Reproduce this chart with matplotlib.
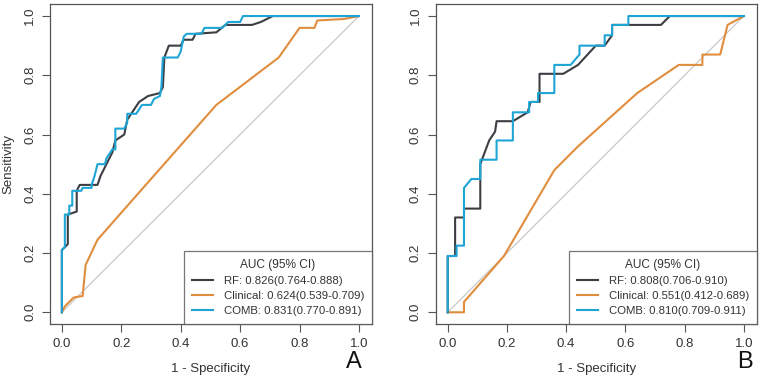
import matplotlib.pyplot as plt

plt.rcParams['font.family'] = ['Liberation Sans', 'DejaVu Sans']

# ROC points (1 - specificity, sensitivity)
# panel A
a_rf_x = [0, 0, 0.01, 0.02, 0.02, 0.05, 0.05, 0.055, 0.06, 0.12, 0.13, 0.15, 0.17, 0.18, 0.21, 0.22, 0.24, 0.26,
          0.29, 0.33, 0.34, 0.345, 0.36, 0.40, 0.41, 0.44, 0.45, 0.52, 0.55, 0.64, 0.67, 0.71, 1.0]
a_rf_y = [0, 0.21, 0.22, 0.23, 0.33, 0.34, 0.41, 0.42, 0.43, 0.43, 0.46, 0.50, 0.54, 0.58, 0.60, 0.65, 0.68, 0.71,
          0.73, 0.74, 0.76, 0.86, 0.90, 0.90, 0.92, 0.92, 0.94, 0.945, 0.97, 0.97, 0.98, 1.0, 1.0]
a_comb_x = [0, 0, 0.01, 0.01, 0.025, 0.025, 0.035, 0.035, 0.065, 0.07, 0.1, 0.1, 0.11, 0.12, 0.145, 0.15, 0.17,
            0.18, 0.18, 0.21, 0.22, 0.22, 0.245, 0.25, 0.27, 0.30, 0.31, 0.33, 0.335, 0.34, 0.39, 0.40, 0.41,
            0.42, 0.47, 0.48, 0.54, 0.55, 0.56, 0.60, 0.61, 1.0]
a_comb_y = [0, 0.21, 0.22, 0.33, 0.33, 0.36, 0.36, 0.41, 0.41, 0.42, 0.42, 0.43, 0.46, 0.50, 0.50, 0.52, 0.55,
            0.55, 0.62, 0.62, 0.64, 0.67, 0.67, 0.67, 0.70, 0.70, 0.72, 0.73, 0.76, 0.86, 0.86, 0.88, 0.93,
            0.94, 0.94, 0.96, 0.96, 0.97, 0.98, 0.98, 1.0, 1.0]
a_cli_x = [0, 0.01, 0.02, 0.04, 0.07, 0.08, 0.12, 0.30, 0.52, 0.73, 0.80, 0.85, 0.86, 0.95, 1.0]
a_cli_y = [0, 0.02, 0.03, 0.05, 0.055, 0.16, 0.245, 0.45, 0.70, 0.86, 0.96, 0.96, 0.985, 0.99, 1.0]

# panel B
b_rf_x = [0, 0, 0.025, 0.025, 0.055, 0.055, 0.11, 0.11, 0.14, 0.16, 0.165, 0.22, 0.27, 0.28, 0.31, 0.31, 0.39,
          0.44, 0.50, 0.53, 0.555, 0.555, 0.72, 0.75, 1.0]
b_rf_y = [0, 0.19, 0.19, 0.32, 0.32, 0.35, 0.35, 0.50, 0.58, 0.61, 0.645, 0.645, 0.675, 0.71, 0.71, 0.805, 0.805,
          0.835, 0.90, 0.90, 0.935, 0.97, 0.97, 1.0, 1.0]
b_comb_x = [0, 0, 0.03, 0.03, 0.055, 0.055, 0.08, 0.11, 0.11, 0.165, 0.165, 0.22, 0.22, 0.275, 0.275, 0.305,
            0.305, 0.36, 0.36, 0.415, 0.445, 0.445, 0.53, 0.53, 0.555, 0.555, 0.61, 0.61, 1.0]
b_comb_y = [0, 0.19, 0.19, 0.225, 0.225, 0.42, 0.45, 0.45, 0.515, 0.515, 0.58, 0.58, 0.675, 0.675, 0.71, 0.71,
            0.74, 0.74, 0.835, 0.835, 0.87, 0.90, 0.90, 0.935, 0.935, 0.97, 0.97, 1.0, 1.0]
b_cli_x = [0, 0.055, 0.055, 0.19, 0.36, 0.44, 0.64, 0.78, 0.86, 0.86, 0.92, 0.945, 1.0]
b_cli_y = [0, 0, 0.035, 0.19, 0.48, 0.56, 0.74, 0.835, 0.835, 0.87, 0.87, 0.97, 1.0]

labels_a = ["RF: 0.826(0.764-0.888)", "Clinical: 0.624(0.539-0.709)", "COMB: 0.831(0.770-0.891)"]
labels_b = ["RF: 0.808(0.706-0.910)", "Clinical: 0.551(0.412-0.689)", "COMB: 0.810(0.709-0.911)"]
ticks = [0.0, 0.2, 0.4, 0.6, 0.8, 1.0]

c_rf = "#3b3e42"
c_cli = "#e08d3e"
c_comb = "#1ea5d6"
frame = "#555555"
txt = "#333333"

fig = plt.figure(figsize=(7.62, 3.80), dpi=100)
axA = fig.add_axes([0.0656, 0.147, 0.4226, 0.842])
axB = fig.add_axes([0.572, 0.147, 0.4213, 0.842])

panels = [
    (axA, a_rf_x, a_rf_y, a_cli_x, a_cli_y, a_comb_x, a_comb_y, labels_a, "A", True, 362),
    (axB, b_rf_x, b_rf_y, b_cli_x, b_cli_y, b_comb_x, b_comb_y, labels_b, "B", False, 753),
]

for ax, rx, ry, cx, cy, mx, my, labs, letter, ylab, lx in panels:
    ax.plot([0, 1], [0, 1], color="#c8c8c8", lw=0.9, zorder=1)
    ax.plot(rx, ry, color=c_rf, lw=1.5, label=labs[0], zorder=3)
    ax.plot(cx, cy, color=c_cli, lw=1.5, label=labs[1], zorder=2)
    ax.plot(mx, my, color=c_comb, lw=1.5, label=labs[2], zorder=4)
    ax.set_xlim(-0.04, 1.044)
    ax.set_ylim(-0.04, 1.04)
    ax.set_xticks(ticks)
    ax.set_yticks(ticks)
    ax.set_xticklabels(["%.1f" % t for t in ticks], fontsize=9.5, color=txt)
    ax.set_yticklabels(["%.1f" % t for t in ticks], fontsize=9.5, color=txt, rotation=90, va="center")
    ax.tick_params(direction="out", length=6, width=0.8, color=frame, pad=4)
    for s in ax.spines.values():
        s.set_color(frame)
        s.set_linewidth(0.9)
    ax.set_xlabel("1 - Specificity", fontsize=9.5, color=txt, labelpad=9)
    if ylab:
        ax.set_ylabel("Sensitivity", fontsize=9.5, color=txt, labelpad=7)
    leg = ax.legend(loc="lower right", title="AUC (95% CI)", fontsize=8.2, title_fontsize=8.6,
                    frameon=True, fancybox=False, borderaxespad=0, handlelength=1.9,
                    handletextpad=0.9, labelspacing=0.45, borderpad=0.7)
    leg.get_frame().set_edgecolor(frame)
    leg.get_frame().set_linewidth(0.9)
    for t in leg.get_texts():
        t.set_color(txt)
    leg.get_title().set_color(txt)
    fig.text(lx / 762, 0.018, letter, fontsize=17, ha="right", va="bottom", color="#111111")

fig.savefig("out.png", dpi=100)
